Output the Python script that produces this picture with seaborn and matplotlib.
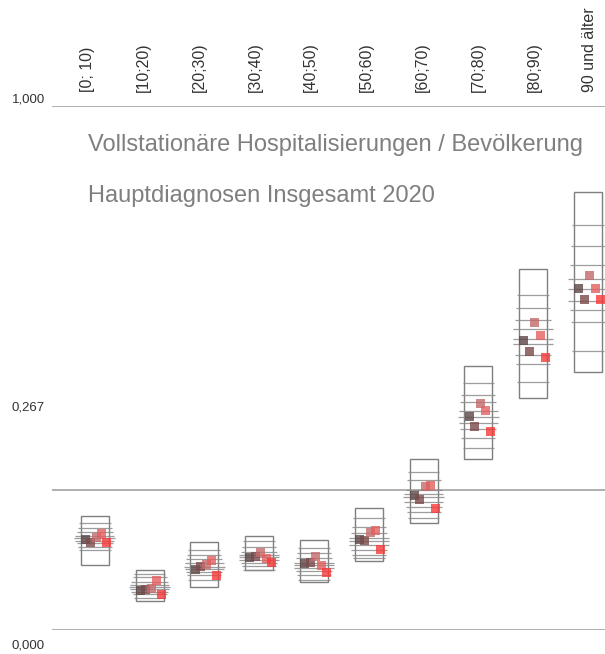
import matplotlib
matplotlib.use("Agg")
import matplotlib.pyplot as plt
from matplotlib.patches import Rectangle
import pandas as pd
import seaborn as sns

sns.set_style("white")
plt.rcParams['font.family'] = ['Liberation Sans', 'DejaVu Sans']

# Altersgruppen
categories = ['[0; 10)', '[10;20)', '[20;30)', '[30;40)', '[40;50)',
              '[50;60)', '[60;70)', '[70;80)', '[80;90)', '90 und älter']

# Rahmen (min / max)
box_lo = [0.124, 0.056, 0.082, 0.115, 0.092, 0.132, 0.204, 0.326, 0.442, 0.493]
box_hi = [0.218, 0.115, 0.167, 0.180, 0.172, 0.232, 0.326, 0.504, 0.688, 0.835]

# Fuenf Punktreihen (dunkel -> rot)
s1 = [0.172, 0.076, 0.116, 0.139, 0.127, 0.173, 0.256, 0.407, 0.553, 0.651]
s2 = [0.167, 0.078, 0.121, 0.141, 0.129, 0.170, 0.249, 0.389, 0.531, 0.630]
s3 = [0.176, 0.080, 0.125, 0.148, 0.140, 0.186, 0.274, 0.433, 0.586, 0.676]
s4 = [0.185, 0.095, 0.132, 0.137, 0.124, 0.189, 0.275, 0.418, 0.562, 0.651]
s5 = [0.167, 0.068, 0.104, 0.128, 0.109, 0.153, 0.231, 0.378, 0.520, 0.630]

# horizontale Striche je Gruppe
ref_lines = [
    [0.204, 0.194, 0.187, 0.179, 0.175, 0.170, 0.166, 0.159, 0.153],
    [0.106, 0.102, 0.092, 0.086, 0.082, 0.078, 0.073, 0.068, 0.062],
    [0.153, 0.143, 0.135, 0.127, 0.121, 0.116, 0.111, 0.105, 0.095],
    [0.169, 0.159, 0.149, 0.143, 0.139, 0.134, 0.128, 0.122, 0.115],
    [0.156, 0.146, 0.137, 0.128, 0.124, 0.119, 0.113, 0.105, 0.095],
    [0.213, 0.197, 0.185, 0.175, 0.169, 0.162, 0.153, 0.143, 0.137],
    [0.302, 0.286, 0.267, 0.259, 0.253, 0.245, 0.235, 0.225, 0.214],
    [0.472, 0.449, 0.435, 0.417, 0.407, 0.395, 0.384, 0.367, 0.347],
    [0.639, 0.614, 0.592, 0.574, 0.555, 0.546, 0.525, 0.507, 0.474],
    [0.772, 0.732, 0.697, 0.669, 0.650, 0.628, 0.611, 0.588, 0.533],
]

y_ticks = [1.0, 0.267, 0.0]
y_tick_labels = ['1,000', '0,267', '0,000']

series_names = ['s1', 's2', 's3', 's4', 's5']
series_vals = [s1, s2, s3, s4, s5]
offsets = [-0.17, -0.07, 0.03, 0.13, 0.22]
colors = ['#5e4646', '#7c4a4a', '#c46a6a', '#e45f5f', '#f83838']
line_widths = [0.58, 0.62, 0.66, 0.72, 0.74, 0.72, 0.66, 0.62, 0.58]

rows = []
for name, vals, off in zip(series_names, series_vals, offsets):
    for i, v in enumerate(vals):
        rows.append({'x': i + off, 'value': v, 'series': name})
df = pd.DataFrame(rows)

fig = plt.figure(figsize=(6.05, 6.54), dpi=100)
ax = fig.add_axes([52 / 605, 24 / 654, 553 / 605, 524 / 654])
ax.set_xlim(-0.78, 9.31)
ax.set_ylim(0, 1)
ax.axis('off')

# Referenzlinien
for y in y_ticks:
    ax.axhline(y, color='#9a9a9a', lw=1.1, zorder=1)

box_w = 0.51
for i in range(len(categories)):
    ax.add_patch(Rectangle((i - box_w / 2, box_lo[i]), box_w, box_hi[i] - box_lo[i],
                           fill=False, edgecolor='#7f7f7f', lw=1.0, zorder=2))
    for y, w in zip(ref_lines[i], line_widths):
        ax.hlines(y, i - w / 2, i + w / 2, color='#8c8c8c', lw=0.9, alpha=0.85, zorder=2)

sns.scatterplot(data=df, x='x', y='value', hue='series', palette=colors, marker='s',
                s=42, linewidth=0, alpha=0.8, legend=False, ax=ax, zorder=3)

# Beschriftungen oben
for i, c in enumerate(categories):
    ax.text(i * 1.018 - 0.13, 1.027, c, rotation=90, ha='center', va='bottom',
            fontsize=11.5, color='#333333', clip_on=False)

# y-Beschriftungen (leicht versetzt wie im Original)
for ypx, lab in zip([100, 408, 646], y_tick_labels):
    fig.text(12 / 605, 1 - ypx / 654, lab, ha='left', va='center', fontsize=9.5,
             color='#333333')

ax.text(-0.12, 0.925, 'Vollstationäre Hospitalisierungen / Bevölkerung', fontsize=17,
        color='#7f7f7f', va='center', ha='left')
ax.text(-0.12, 0.828, 'Hauptdiagnosen Insgesamt 2020', fontsize=17,
        color='#7f7f7f', va='center', ha='left')

fig.savefig('out.png', dpi=100)
